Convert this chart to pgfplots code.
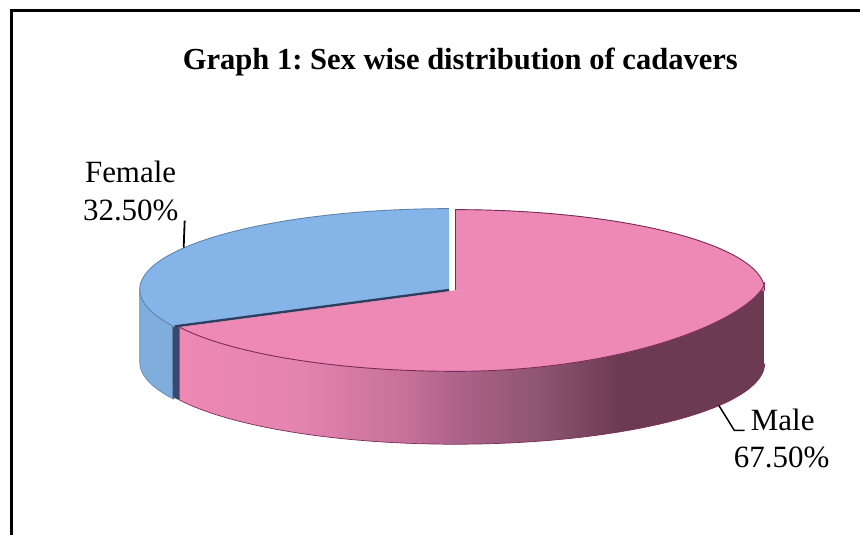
\documentclass[border=0pt]{standalone}
\usepackage{fontspec}
\setmainfont{Liberation Serif}
\usepackage{pgfplots}
\usepackage{pgfplotstable}
\pgfplotsset{compat=1.18}
\frenchspacing

% Shares of the two groups, in percent
\pgfplotstableread{
group share
Female 32.5
Male 67.5
}\sharetable
\pgfplotstablegetelem{0}{share}\of\sharetable
\pgfmathsetmacro{\femaleshare}{\pgfplotsretval}
% Slices start at twelve o'clock and Female runs counterclockwise
\pgfmathsetmacro{\splitangle}{90+3.6*\femaleshare}

\definecolor{femaletop}{HTML}{85B5E8}
\definecolor{femaleside}{HTML}{7FAEDC}
\definecolor{femaleedge}{HTML}{5F83AC}
\definecolor{maletop}{HTML}{EE88B5}
\definecolor{maleedge}{HTML}{7A2C58}
\definecolor{cutface}{HTML}{3A4870}
\definecolor{mA}{HTML}{EE88B5}
\definecolor{mB}{HTML}{E484B0}
\definecolor{mC}{HTML}{C8719B}
\definecolor{mD}{HTML}{AE638A}
\definecolor{mE}{HTML}{8D5470}
\definecolor{mF}{HTML}{6C3B51}

\pgfdeclarehorizontalshading{maleside}{100bp}{
  color(0bp)=(mA); color(25bp)=(mA); color(35bp)=(mB); color(44bp)=(mC);
  color(48.5bp)=(mD); color(56bp)=(mE); color(62.5bp)=(mF); color(100bp)=(mF)}

% Ellipse geometry of the tilted disc
\newcommand{\rx}{310}
\newcommand{\ry}{81}
\newcommand{\depth}{73}
\newcommand{\fx}{450}
\newcommand{\fy}{290}
\newcommand{\mx}{456}
\newcommand{\my}{291}
% The front right rim of the top face rises to a corner above the centre line
\newcommand{\rimy}{283}
\newcommand{\rimry}{89}
\newcommand{\rimpow}{1.3}

\begin{document}
\begin{tikzpicture}
\begin{axis}[
  x=1pt, y=1pt, scale only axis,
  xmin=0, xmax=861, ymin=0, ymax=536, y dir=reverse,
  hide axis, clip=false,
  samples=80, variable=\t,
]
% Page extent
\path (axis cs:0,0) rectangle (axis cs:861,536);
% Female side wall
\addplot[fill=femaleside, draw=femaleedge, line width=0.6pt, domain=180:\splitangle]
  ({\fx+\rx*cos(t)},{\fy+\depth-\ry*sin(t)})
  -- (axis cs:173,327) -- (axis cs:140,\fy) -- cycle;
% Male side wall, shaded from the lit left end to the dark right end
\addplot[shade, shading=maleside, draw=none, domain=\splitangle:360]
  ({\mx+\rx*cos(t)},{\my+\depth-\ry*sin(t)})
  -- (axis cs:766,\rimy) -- (axis cs:180,328) -- cycle;
\addplot[draw=maleedge, line width=0.7pt, domain=\splitangle:360]
  ({\mx+\rx*cos(t)},{\my+\depth-\ry*sin(t)});
% Cut face between the slices
\addplot[fill=cutface, draw=none] coordinates {(173,327) (180,328) (180,401) (173,398)} -- cycle;
% Female top face
\addplot[fill=femaletop, draw=none, domain=90:\splitangle]
  ({\fx+\rx*cos(t)},{\fy-\ry*sin(t)}) -- (axis cs:\fx,\fy) -- cycle;
\addplot[draw=femaleedge, line width=0.9pt, domain=90:\splitangle]
  ({\fx+\rx*cos(t)},{\fy-\ry*sin(t)});
% Male top face, in three pieces round the centre
\addplot[fill=maletop, draw=maletop, line width=0.3pt, domain=\splitangle:270]
  ({\mx+\rx*cos(t)},{\my-\ry*sin(t)}) -- (axis cs:\mx,\my) -- cycle;
\addplot[fill=maletop, draw=maletop, line width=0.3pt, domain=0:90]
  ({\mx+\rx*cos(t)},{\my-\ry*sin(t)}) -- (axis cs:\mx,\my) -- cycle;
\addplot[fill=maletop, draw=maletop, line width=0.3pt, domain=270:360]
  ({\mx+\rx*cos(t)},{\rimy+\rimry*max(abs(sin(t)),0.001)^\rimpow}) -- (axis cs:\mx,\my) -- cycle;
\addplot[draw=maleedge, line width=0.9pt, domain=\splitangle:270]
  ({\mx+\rx*cos(t)},{\my-\ry*sin(t)});
\addplot[draw=maleedge, line width=0.9pt, domain=270:360]
  ({\mx+\rx*cos(t)},{\rimy+\rimry*max(abs(sin(t)),0.001)^\rimpow});
\addplot[draw=maleedge, line width=0.9pt, domain=0:90]
  ({\mx+\rx*cos(t)},{\my-\ry*sin(t)});
\addplot[draw=maleedge, line width=0.8pt] coordinates {(\mx,210) (\mx,\my)};
% Dark seam along the cut
\addplot[draw=cutface!85!black, line width=2.4pt] coordinates {(\fx,290.5) (175,327)};
% Leader lines
\addplot[black, line width=1.8pt] coordinates {(185,221) (184,248)};
\addplot[black, line width=1.5pt, line join=round] coordinates {(720,406) (735.5,431) (746,431)};
% Frame: top and left rules only
\addplot[black, line width=3pt, line join=miter] coordinates {(12,536) (12,11) (861,11)};
% Text
\node[anchor=base west, inner sep=0pt, font=\bfseries\fontsize{30.6}{30}\selectfont] at (axis cs:183,70)
  {Graph 1: Sex wise distribution of cadavers};
\node[anchor=base west, inner sep=0pt, font=\fontsize{31}{31}\selectfont] at (axis cs:85,183) {Female};
\node[anchor=base west, inner sep=0pt, font=\fontsize{31}{31}\selectfont] at (axis cs:83,221) {32.50\%};
\node[anchor=base west, inner sep=0pt, font=\fontsize{31}{31}\selectfont] at (axis cs:752,431) {Male};
\node[anchor=base west, inner sep=0pt, font=\fontsize{31}{31}\selectfont] at (axis cs:735,468) {67.50\%};
\end{axis}
\end{tikzpicture}
\end{document}
